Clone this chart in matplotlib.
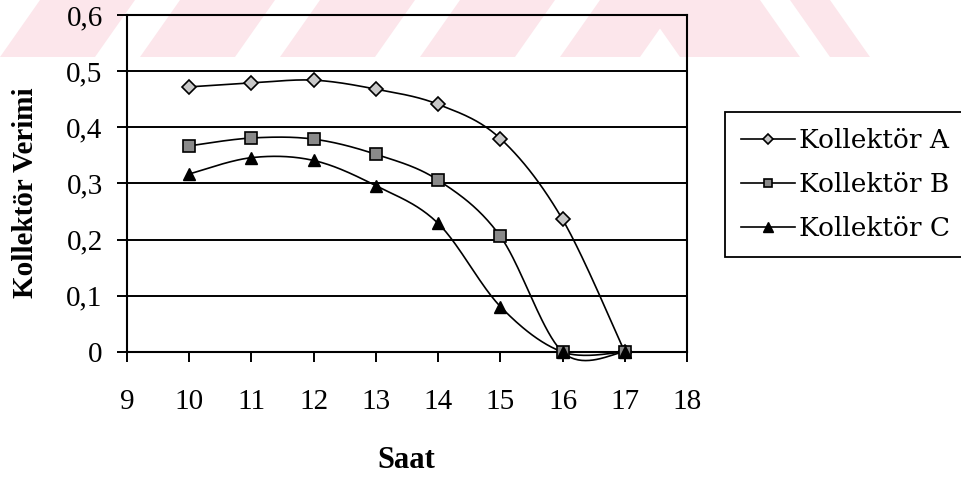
import numpy as np
import matplotlib
matplotlib.use("Agg")
import matplotlib.pyplot as plt
from matplotlib.lines import Line2D
from matplotlib.patches import Polygon

# Hourly collector efficiency readings
saat = [10, 11, 12, 13, 14, 15, 16, 17]
kollektor_a = [0.472, 0.479, 0.484, 0.468, 0.441, 0.380, 0.236, 0.0]
kollektor_b = [0.367, 0.381, 0.379, 0.352, 0.306, 0.206, 0.0, 0.0]
kollektor_c = [0.317, 0.346, 0.341, 0.296, 0.229, 0.081, 0.0, 0.0]
seri_adlari = ["Kollektör A", "Kollektör B", "Kollektör C"]
x_ticks = list(range(9, 19))
y_ticks = [0.0, 0.1, 0.2, 0.3, 0.4, 0.5, 0.6]
y_tick_labels = ["0", "0,1", "0,2", "0,3", "0,4", "0,5", "0,6"]


def smooth_curve(x, y, n=40):
    """Bezier smoothing through every point (Catmull-Rom style control points)."""
    x = np.asarray(x, float)
    y = np.asarray(y, float)
    p = np.column_stack([x, y])
    pts = [p[0]]
    for i in range(len(p) - 1):
        p0 = p[i - 1] if i > 0 else p[i]
        p1 = p[i]
        p2 = p[i + 1]
        p3 = p[i + 2] if i + 2 < len(p) else p[i + 1]
        c1 = p1 + (p2 - p0) / 6.0
        c2 = p2 - (p3 - p1) / 6.0
        t = np.linspace(0, 1, n)[1:, None]
        seg = ((1 - t) ** 3) * p1 + 3 * ((1 - t) ** 2) * t * c1 \
            + 3 * (1 - t) * t ** 2 * c2 + t ** 3 * p2
        pts.extend(seg)
    pts = np.array(pts)
    return pts[:, 0], pts[:, 1]


W, H = 962, 480
fig = plt.figure(figsize=(W / 100, H / 100), dpi=100)
fig.patch.set_facecolor("white")

# faint pink watermark band across the top
pink = "#fce6eb"
band_h = 57
shift = 40
wm = []
wm_stripes = [(0, 95), (140, 235), (280, 375), (420, 515), (560, 640)]
for x0, x1 in wm_stripes:
    wm.append([(x0, band_h), (x1, band_h), (x1 + shift, 0), (x0 + shift, 0)])
wm_back = [(640, 760), (790, 830)]
for x0, x1 in wm_back:
    wm.append([(x0 + shift, band_h), (x1 + shift, band_h), (x1, 0), (x0, 0)])
for poly in wm:
    verts = [(px / W, 1 - py / H) for px, py in poly]
    fig.add_artist(Polygon(verts, closed=True, facecolor=pink, edgecolor="none",
                           transform=fig.transFigure, zorder=-5))

ax = fig.add_axes([127 / W, 1 - 352 / H, 560 / W, 337 / H])
ax.set_facecolor("none")

serif_ticks = ["Liberation Serif", "DejaVu Serif"]
serif_legend = ["DejaVu Serif"]

styles = [
    dict(marker="D", ms=7, mfc="#c8c8c8", mec="black", mew=1.2),
    dict(marker="s", ms=8.5, mfc="#8a8a8a", mec="black", mew=1.2),
    dict(marker="^", ms=9, mfc="black", mec="black", mew=1.0),
]
handles = []
for vals, st, name in zip([kollektor_a, kollektor_b, kollektor_c], styles, seri_adlari):
    sx, sy = smooth_curve(saat, vals)
    ax.plot(sx, sy, color="black", lw=1.2, clip_on=False, zorder=3)
    ax.plot(saat, vals, linestyle="none", clip_on=False, zorder=4, **st)
    handles.append(Line2D([], [], color="black", lw=1.2, label=name,
                          marker=st["marker"], ms=st["ms"] * 0.75, mfc=st["mfc"],
                          mec=st["mec"], mew=st["mew"]))

ax.set_xlim(9, 18)
ax.set_ylim(0, 0.6)
ax.set_xticks(x_ticks)
ax.set_xticklabels([str(v) for v in x_ticks], family=serif_ticks, fontsize=21)
ax.set_yticks(y_ticks)
ax.set_yticklabels(y_tick_labels, family=serif_ticks, fontsize=21)
ax.yaxis.grid(True, color="black", lw=1.4)
ax.set_axisbelow(True)
ax.tick_params(axis="y", direction="out", length=7.5, width=1.4, pad=10)
ax.tick_params(axis="x", direction="out", length=7.5, width=1.4, pad=19)
for sp in ax.spines.values():
    sp.set_color("black")
    sp.set_linewidth(1.5)

fig.text(26 / W, 1 - 193 / H, "Kollektör Verimi", rotation=90, ha="center",
         va="center", family=serif_ticks, fontweight="bold", fontsize=21)
fig.text(406 / W, 1 - 460 / H, "Saat", ha="center", va="center",
         family=serif_ticks, fontweight="bold", fontsize=22)

leg = fig.legend(handles=handles, loc="upper left",
                 bbox_to_anchor=(725 / W, 1 - 112 / H),
                 bbox_transform=fig.transFigure, borderaxespad=0,
                 prop=dict(family=serif_legend, size=19),
                 frameon=True, fancybox=False, framealpha=1,
                 edgecolor="black", borderpad=0.6, labelspacing=0.72,
                 handlelength=2.05, handletextpad=0.15)
leg.get_frame().set_linewidth(1.3)

fig.savefig("out.png", dpi=100)
